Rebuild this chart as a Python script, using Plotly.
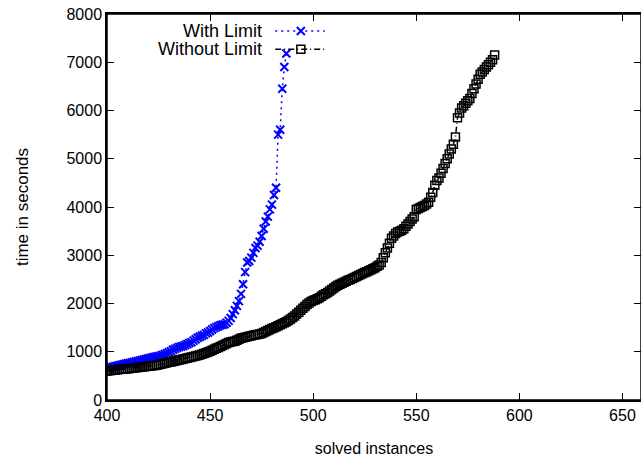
import plotly.graph_objects as go

# solved instances start at 400 (cactus plot, one point per instance)
x_start = 400

with_limit = [
    640, 660, 680, 690, 700, 710, 720, 730, 740, 750,
    760, 770, 780, 790, 800, 810, 820, 830, 840, 850,
    860, 870, 880, 890, 900, 910, 920, 935, 950, 970,
    990, 1010, 1040, 1060, 1080, 1100, 1110, 1120, 1140, 1160,
    1180, 1200, 1230, 1260, 1290, 1310, 1330, 1350, 1380, 1400,
    1430, 1460, 1490, 1510, 1530, 1550, 1560, 1570, 1600, 1640,
    1700, 1780, 1860, 1950, 2050, 2200, 2400, 2650, 2850, 2880,
    2950, 3050, 3150, 3200, 3280, 3400, 3550, 3700, 3800, 3950,
    4050, 4250, 4400, 5500, 5600, 6450, 6900, 7180,
]

without_limit = [
    600, 605, 610, 615, 620, 625, 630, 635, 640, 645,
    650, 655, 660, 665, 670, 675, 680, 685, 690, 695,
    700, 705, 710, 715, 720, 730, 740, 750, 760, 770,
    780, 790, 800, 810, 820, 830, 840, 850, 860, 870,
    880, 890, 900, 910, 920, 935, 950, 965, 980, 995,
    1010, 1030, 1050, 1070, 1090, 1110, 1130, 1150, 1170, 1190,
    1200, 1210, 1220, 1240, 1260, 1280, 1290, 1300, 1310, 1320,
    1330, 1340, 1350, 1360, 1370, 1380, 1400, 1420, 1440, 1460,
    1480, 1500, 1520, 1540, 1560, 1580, 1600, 1620, 1650, 1680,
    1710, 1740, 1780, 1820, 1860, 1900, 1940, 1980, 2010, 2040,
    2060, 2080, 2100, 2120, 2150, 2180, 2200, 2230, 2260, 2290,
    2320, 2350, 2380, 2400, 2420, 2440, 2460, 2480, 2500, 2520,
    2540, 2560, 2580, 2600, 2620, 2640, 2660, 2680, 2700, 2720,
    2740, 2770, 2800, 2850, 2950, 3050, 3150, 3250, 3350, 3400,
    3450, 3480, 3500, 3520, 3550, 3600, 3650, 3700, 3750, 3800,
    3950, 3970, 3990, 4010, 4030, 4060, 4100, 4200, 4300, 4450,
    4550, 4600, 4700, 4800, 4900, 5000, 5100, 5200, 5300, 5450,
    5850, 5950, 6050, 6100, 6150, 6200, 6250, 6350, 6450, 6550,
    6650, 6750, 6800, 6850, 6900, 6950, 7000, 7050, 7150,
]

x_ticks = [400, 450, 500, 550, 600, 650]
y_ticks = [0, 1000, 2000, 3000, 4000, 5000, 6000, 7000, 8000]

FONT = "Liberation Sans, Arial, sans-serif"
BLUE = "#0000ff"

blue_line = dict(color=BLUE, width=1.5, dash="2px,4px")
blue_marker = dict(symbol="x-thin", size=8, line=dict(color=BLUE, width=2))
black_line = dict(color="black", width=1.5, dash="6px,3px,1px,3px")
black_marker = dict(symbol="square-open", size=8, color="black", line=dict(color="black", width=1.5))

fig = go.Figure()
fig.add_trace(go.Scatter(
    x=list(range(x_start, x_start + len(with_limit))), y=with_limit,
    mode="lines+markers", line=blue_line, marker=blue_marker, showlegend=False))
fig.add_trace(go.Scatter(
    x=list(range(x_start, x_start + len(without_limit))), y=without_limit,
    mode="lines+markers", line=black_line, marker=black_marker, showlegend=False))

# gnuplot style key: label on the left, sample on the right (drawn on a 0..1 overlay axis)
key_rows = [("With Limit", 0.956, blue_line, blue_marker),
            ("Without Limit", 0.909, black_line, black_marker)]
for label, ky, ln, mk in key_rows:
    fig.add_trace(go.Scatter(x=[0.315, 0.408], y=[ky, ky], mode="lines", line=ln,
                             xaxis="x2", yaxis="y2", showlegend=False, hoverinfo="skip"))
    fig.add_trace(go.Scatter(x=[0.363], y=[ky], mode="markers", marker=mk,
                             xaxis="x2", yaxis="y2", showlegend=False, hoverinfo="skip"))
    fig.add_annotation(text=label, xref="paper", yref="paper", x=0.294, y=ky,
                       xanchor="right", yanchor="middle", showarrow=False,
                       font=dict(family=FONT, size=18, color="black"))

axis_common = dict(showline=True, linecolor="black", linewidth=1.5, mirror="ticks",
                   ticks="inside", ticklen=7, tickwidth=1, tickcolor="black",
                   showgrid=False, zeroline=False, automargin=False,
                   ticklabeloverflow="allow",
                   tickfont=dict(family=FONT, size=16, color="black"))

fig.update_layout(
    width=641, height=460,
    margin=dict(l=107, r=0, t=14, b=60),
    paper_bgcolor="white", plot_bgcolor="white",
    font=dict(family=FONT, size=16, color="black"),
    xaxis=dict(range=[400, 659], tickvals=x_ticks,
               title=dict(text="solved instances", standoff=20,
                          font=dict(family=FONT, size=16, color="black")),
               **axis_common),
    yaxis=dict(range=[0, 8000], tickvals=y_ticks,
               title=dict(text="time in seconds", standoff=34,
                          font=dict(family=FONT, size=17, color="black")),
               **axis_common),
    xaxis2=dict(range=[0, 1], overlaying="x", visible=False),
    yaxis2=dict(range=[0, 1], overlaying="y", visible=False),
    # top axis only for the mirrored tick marks
    xaxis3=dict(overlaying="x", side="top", matches="x", tickvals=x_ticks,
                ticks="inside", ticklen=7, tickwidth=1, tickcolor="black",
                showticklabels=False, showgrid=False, zeroline=False,
                showline=True, linecolor="black", linewidth=1.5),
)

# plot frame, so the border is complete on every side
fig.add_shape(type="rect", xref="paper", yref="paper", x0=0, y0=0, x1=1, y1=1,
              line=dict(color="black", width=1.5), layer="above")

# drop the default 8px page margin so the figure sits at the window corner
fig.write_html("out.html", config={"displayModeBar": False},
               post_script="document.body.style.margin='0';document.body.style.overflow='hidden';")
